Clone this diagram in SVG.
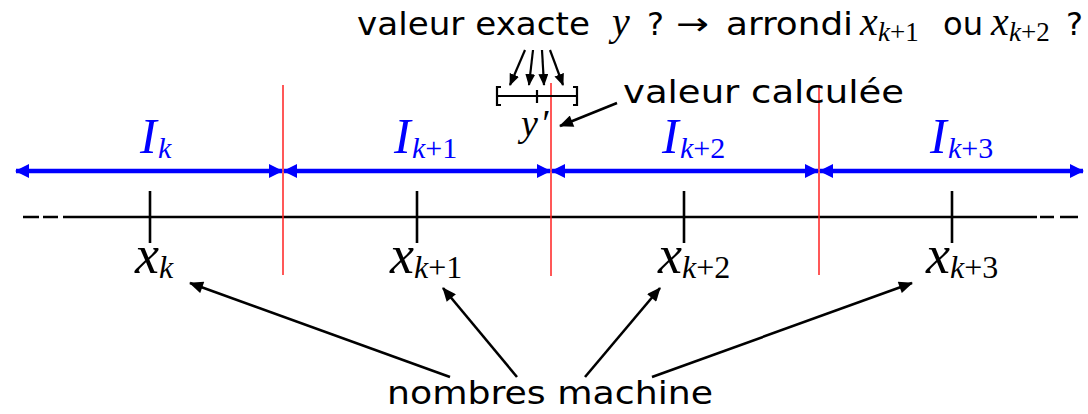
<svg xmlns="http://www.w3.org/2000/svg" width="1088" height="414" viewBox="0 0 1088 414">
<defs>
<style>
.sans{font-family:"DejaVu Sans","Liberation Sans",sans-serif;font-size:32px;fill:#000}
.m{font-family:"Liberation Serif","DejaVu Serif",serif;font-style:italic;fill:#000}
.mn{font-family:"Liberation Serif","DejaVu Serif",serif;fill:#000}
.blue{fill:#0000ff}
.bl{stroke:#0000ff;stroke-width:4.5;fill:none}
.ax{stroke:#000;stroke-width:2.6;fill:none}
.red{stroke:#ff2020;stroke-width:1.5}
.ar{stroke:#000;stroke-width:2.6;fill:none}
.ars{stroke:#000;stroke-width:2.2;fill:none}
</style>
<marker id="bh" viewBox="0 0 14 14" refX="13" refY="7" markerWidth="14" markerHeight="14" markerUnits="userSpaceOnUse" orient="auto-start-reverse">
<path d="M0,0 L14,7 L0,14 Z" fill="#0000ff"/>
</marker>
<marker id="kh" viewBox="0 0 14 12" refX="13" refY="6" markerWidth="15" markerHeight="12" markerUnits="userSpaceOnUse" orient="auto">
<path d="M0,0 L14,6 L0,12 Z" fill="#000"/>
</marker>
<marker id="ks" viewBox="0 0 12 10" refX="11" refY="5" markerWidth="12" markerHeight="10" markerUnits="userSpaceOnUse" orient="auto">
<path d="M0,0 L12,5 L0,10 Z" fill="#000"/>
</marker>
</defs>

<g id="axis">
<path class="ax" d="M23,217 H39 M43,217 H58 M63,217 H1037 M1040,217 H1054 M1060,217 H1078"/>
</g>

<g id="red-lines">
<line class="red" x1="283" y1="85" x2="283" y2="275"/>
<line class="red" x1="551" y1="83" x2="551" y2="276"/>
<line class="red" x1="819" y1="85" x2="819" y2="275"/>
</g>

<g id="intervals">
<line class="bl" x1="16" y1="171" x2="282" y2="171" marker-start="url(#bh)" marker-end="url(#bh)"/>
<line class="bl" x1="284" y1="171" x2="550" y2="171" marker-start="url(#bh)" marker-end="url(#bh)"/>
<line class="bl" x1="552" y1="171" x2="818" y2="171" marker-start="url(#bh)" marker-end="url(#bh)"/>
<line class="bl" x1="820" y1="171" x2="1083" y2="171" marker-start="url(#bh)" marker-end="url(#bh)"/>
<g id="Ik"><text class="m blue" x="140" y="153" font-size="50">I</text><text class="m blue" x="158" y="158" font-size="30">k</text></g>
<g id="Ik1"><text class="m blue" x="394" y="153" font-size="50">I</text><text class="m blue" x="412" y="158" font-size="30">k<tspan font-style="normal">+1</tspan></text></g>
<g id="Ik2"><text class="m blue" x="662" y="153" font-size="50">I</text><text class="m blue" x="680" y="158" font-size="30">k<tspan font-style="normal">+2</tspan></text></g>
<g id="Ik3"><text class="m blue" x="930" y="153" font-size="50">I</text><text class="m blue" x="948" y="158" font-size="30">k<tspan font-style="normal">+3</tspan></text></g>
</g>

<g id="ticks">
<line class="ax" x1="150" y1="191" x2="150" y2="243"/>
<line class="ax" x1="417" y1="191" x2="417" y2="243"/>
<line class="ax" x1="684" y1="191" x2="684" y2="243"/>
<line class="ax" x1="952" y1="191" x2="952" y2="243"/>
</g>

<g id="xk"><text class="m" x="135" y="273" font-size="54">x</text><text class="m" x="159" y="278" font-size="32">k</text></g>
<g id="xk1"><text class="m" x="390" y="273" font-size="54">x</text><text class="m" x="414" y="278" font-size="32">k<tspan font-style="normal">+1</tspan></text></g>
<g id="xk2"><text class="m" x="658" y="273" font-size="54">x</text><text class="m" x="682" y="278" font-size="32">k<tspan font-style="normal">+2</tspan></text></g>
<g id="xk3"><text class="m" x="926" y="273" font-size="54">x</text><text class="m" x="950" y="278" font-size="32">k<tspan font-style="normal">+3</tspan></text></g>

<g id="question">
<text class="sans" x="357" y="35" textLength="233" lengthAdjust="spacingAndGlyphs">valeur exacte</text>
<text class="m" x="612" y="35" font-size="40">y</text>
<text class="sans" x="647" y="35">?</text>
<text class="sans" x="676" y="35" textLength="33" lengthAdjust="spacingAndGlyphs">→</text>
<text class="sans" x="726" y="35" textLength="127" lengthAdjust="spacingAndGlyphs">arrondi</text>
<text class="m" x="860" y="35" font-size="40">x</text><text class="m" x="878" y="41" font-size="27">k<tspan font-style="normal">+1</tspan></text>
<text class="sans" x="943" y="35" textLength="40" lengthAdjust="spacingAndGlyphs">ou</text>
<text class="m" x="991" y="35" font-size="40">x</text><text class="m" x="1009" y="41" font-size="27">k<tspan font-style="normal">+2</tspan></text>
<text class="sans" x="1066" y="35">?</text>
</g>

<g id="interval-y">
<path class="ax" d="M497,96 H577 M501,87 H497 V105 H501 M573,87 H577 V105 H573 M537,90 V103" style="stroke-width:2.2"/>
<text class="m" x="521" y="136" font-size="38">y</text><text class="m" x="540" y="136" font-size="38">′</text>
</g>

<g id="valeur-calculee">
<text class="sans" x="623" y="103" textLength="281" lengthAdjust="spacingAndGlyphs">valeur calculée</text>
</g>

<g id="nombres-machine">
<text class="sans" x="387" y="404" textLength="326" lengthAdjust="spacingAndGlyphs">nombres machine</text>
</g>

<g id="connectors">
<line class="ars" x1="525" y1="50" x2="510" y2="85" marker-end="url(#ks)"/>
<line class="ars" x1="533" y1="50" x2="529" y2="85" marker-end="url(#ks)"/>
<line class="ars" x1="542" y1="50" x2="544" y2="85" marker-end="url(#ks)"/>
<line class="ars" x1="550" y1="50" x2="563" y2="85" marker-end="url(#ks)"/>
<line class="ar" x1="617" y1="103" x2="560" y2="126" marker-end="url(#kh)"/>
<line class="ar" x1="450" y1="377" x2="190" y2="283" marker-end="url(#kh)"/>
<line class="ar" x1="517" y1="377" x2="443" y2="288" marker-end="url(#kh)"/>
<line class="ar" x1="585" y1="377" x2="660" y2="288" marker-end="url(#kh)"/>
<line class="ar" x1="652" y1="377" x2="912" y2="283" marker-end="url(#kh)"/>
</g>
</svg>
